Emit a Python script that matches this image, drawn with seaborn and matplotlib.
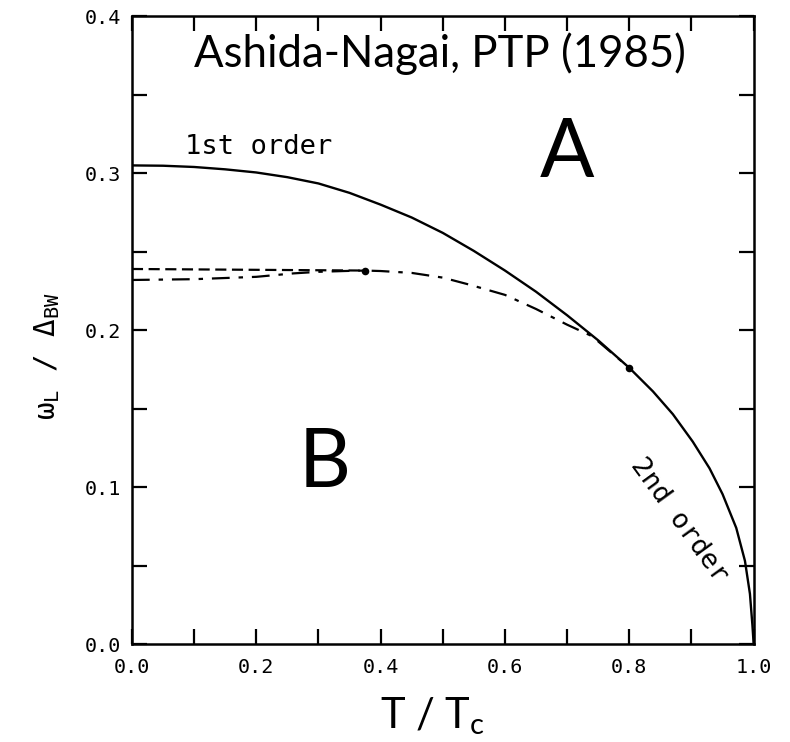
import matplotlib
matplotlib.use("Agg")
import matplotlib.pyplot as plt
from matplotlib.ticker import MultipleLocator
import pandas as pd
import seaborn as sns

# Phase boundary lines of the omega_L / Delta_BW vs T/Tc diagram
first_T = [0.0, 0.05, 0.1, 0.15, 0.2, 0.25, 0.3, 0.35, 0.4, 0.45, 0.5, 0.55,
           0.6, 0.65, 0.7, 0.75, 0.8, 0.838, 0.87, 0.902, 0.929, 0.95, 0.972,
           0.986, 0.994, 0.998, 1.0]
first_W = [0.305, 0.3048, 0.304, 0.3025, 0.3005, 0.2975, 0.2935, 0.2875, 0.280,
           0.2718, 0.262, 0.2505, 0.238, 0.2245, 0.2095, 0.1935, 0.176, 0.161,
           0.1465, 0.129, 0.112, 0.0955, 0.074, 0.053, 0.032, 0.012, 0.0]

dashed_T = [0.0, 0.375]
dashed_W = [0.239, 0.238]

dashdot_T = [0.0, 0.1, 0.2, 0.26, 0.3, 0.35, 0.375, 0.4, 0.45, 0.5, 0.543,
             0.6, 0.65, 0.7, 0.74, 0.8]
dashdot_W = [0.232, 0.2325, 0.234, 0.2362, 0.2372, 0.2378, 0.238, 0.2377,
             0.2365, 0.2335, 0.229, 0.2225, 0.2135, 0.2035, 0.1962, 0.176]

point_T = [0.375, 0.8]
point_W = [0.238, 0.176]

sns.set_theme(style="white")
plt.rcParams["font.family"] = ["DejaVu Sans Mono", "DejaVu Sans"]

fig = plt.figure(figsize=(7.9, 7.42), dpi=100)
ax = fig.add_axes([0.167, 0.132, 0.787, 0.846])

df_first = pd.DataFrame({"T": first_T, "W": first_W})
df_dash = pd.DataFrame({"T": dashed_T, "W": dashed_W})
df_dd = pd.DataFrame({"T": dashdot_T, "W": dashdot_W})

sns.lineplot(data=df_dd, x="T", y="W", ax=ax, color="black", lw=1.6,
             linestyle=(0, (8, 4, 2, 4)), sort=False, estimator=None)
sns.lineplot(data=df_dash, x="T", y="W", ax=ax, color="black", lw=1.6,
             linestyle=(0, (5, 2.5)), sort=False, estimator=None)
sns.lineplot(data=df_first, x="T", y="W", ax=ax, color="black", lw=1.7,
             sort=False, estimator=None)
sns.scatterplot(x=point_T, y=point_W, ax=ax, color="black", s=30, zorder=5,
                edgecolor="black", linewidth=0)

ax.set_xlim(0, 1.0)
ax.set_ylim(0, 0.4)
ax.xaxis.set_major_locator(MultipleLocator(0.2))
ax.xaxis.set_minor_locator(MultipleLocator(0.1))
ax.yaxis.set_major_locator(MultipleLocator(0.1))
ax.yaxis.set_minor_locator(MultipleLocator(0.05))
ax.set_xticklabels([f"{v:.1f}" for v in ax.get_xticks()])
ax.set_yticklabels([f"{v:.1f}" for v in ax.get_yticks()])
ax.tick_params(which="both", direction="in", length=11, width=1.6,
               top=True, right=True, bottom=True, left=True, color="black")
ax.tick_params(axis="both", labelsize=14.5, labelcolor="black")
ax.tick_params(axis="x", pad=10)
ax.tick_params(axis="y", pad=8)
for s in ax.spines.values():
    s.set_visible(True)
    s.set_color("black")
    s.set_linewidth(1.8)

ax.set_xlabel("")
ax.set_ylabel("")
fig.text(0.548, 0.019, r"T / T$_{\mathregular{c}}$", fontsize=30, family="Lato",
         ha="center", va="baseline", color="black")
fig.text(0.06, 0.52, r"$\mathregular{\omega}_{\mathregular{L}}$ / $\mathregular{\Delta}_{\mathregular{BW}}$",
         rotation=90, fontsize=21, ha="center", va="center", color="black")

ax.text(0.495, 0.376, "Ashida-Nagai, PTP (1985)", fontsize=31.5, family="Lato",
        ha="center", va="center", color="black")
ax.text(0.7, 0.312, "A", fontsize=58, family="Lato", ha="center", va="center",
        color="black")
ax.text(0.31, 0.115, "B", fontsize=58, family="Lato", ha="center", va="center",
        color="black")
ax.text(0.085, 0.3085, "1st order", fontsize=19.5, ha="left", va="bottom",
        color="black")
ax.text(0.88, 0.079, "2nd order", fontsize=19.5, rotation=-54, ha="center",
        va="center", color="black", rotation_mode="anchor")

fig.savefig("out.png", dpi=100, facecolor="white")
